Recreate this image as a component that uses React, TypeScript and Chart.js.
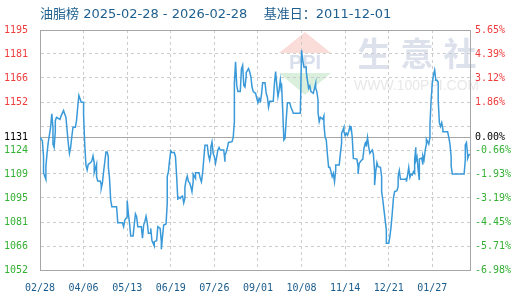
import React, { useEffect, useRef } from "react";
import { Chart, registerables } from "chart.js";

Chart.register(...registerables);

const titleText = "油脂榜 2025-02-28 - 2026-02-28    基准日：2011-12-01";
const watermarkChars = ["生", "意", "社"];
const watermarkUrl = "WWW.100PPI.COM";

const baseValue = 1131;
const yMin = 1052;
const yMax = 1195;

const xTickDays = [0, 37, 74, 111, 148, 185, 222, 259, 296, 333];
const xTickLabels = ["02/28", "04/06", "05/13", "06/19", "07/26", "09/01", "10/08", "11/14", "12/21", "01/27"];

const yTickValues = [1052, 1066.3, 1080.6, 1094.9, 1109.2, 1123.5, 1131, 1137.8, 1152.1, 1166.4, 1180.7, 1195];
const leftTickLabels = ["1052", "1066", "1081", "1095", "1109", "1124", "1131", "", "1152", "1166", "1181", "1195"];
const rightTickLabels = ["-6.98%", "-5.71%", "-4.45%", "-3.19%", "-1.93%", "-0.66%", "0.00%", "", "1.86%", "3.12%", "4.39%", "5.65%"];

// day offset from 2025-02-28
const days = [
  0, 2, 3, 3, 5, 5, 6, 7, 9, 10, 11, 11, 12, 13, 13, 14, 17, 18, 20, 21, 22, 24, 25, 26, 27, 28, 30, 31, 32, 33, 34, 35, 37, 37, 38, 39, 40, 41, 43, 44, 45, 46, 46, 48, 48, 49, 51, 52, 52, 53, 54, 55, 56, 57, 58, 58, 59, 60, 61, 65,
  66, 70, 71, 72, 74, 74, 75, 76, 77, 79, 80, 81, 82, 83, 86, 87, 88, 89, 90, 91, 92, 94, 94, 95, 97, 97, 99, 100, 102, 103, 103, 104, 105, 107, 108, 108, 109, 110, 111, 112, 114, 115, 116, 117, 117, 119, 120, 121, 122, 123, 123, 124, 125, 126, 127, 128, 129, 130, 130, 132, 132, 135, 136, 137, 138, 139, 140, 142, 143, 144, 145, 145, 146, 147, 148, 149,
  151, 152, 153, 156, 157, 157, 158, 159, 160, 163, 164, 165, 165, 166, 167, 168, 170, 171, 172, 173, 174, 175, 175, 177, 178, 179, 180, 181, 183, 184, 185, 186, 187, 187, 188, 189, 191, 192, 193, 194, 195, 198, 199, 200, 201, 202, 203, 204, 205, 205, 206, 207, 208, 209, 210, 212, 213, 214, 215, 221,
  222, 223, 224, 226, 226, 227, 228, 229, 230, 232, 234, 234, 235, 236, 236, 237, 238, 240, 241, 241, 242, 243, 244, 245, 246, 247, 248, 249, 250, 251, 251, 254, 255, 256, 256, 258, 258, 259, 260, 261, 262, 263, 264, 264, 265, 266, 269, 270, 270, 271, 273, 274, 275, 276, 277, 277, 278, 279, 280, 281, 282, 283, 284, 284, 285, 286, 287, 289, 290, 290, 291, 292, 294, 294, 296, 297, 298, 299,
  300, 301, 303, 304, 304, 305, 306, 310, 311, 311, 312, 313, 314, 315, 316, 317, 318, 318, 319, 319, 320, 321, 322, 322, 324, 325, 325, 326, 327, 328, 328, 330, 331, 331, 332, 333, 334, 335, 336, 337, 338, 338, 339, 340, 341, 342, 342, 346, 347, 348, 349, 349, 350, 360, 361, 361, 362, 363, 363, 364, 365,
];

const prices = [
  1131, 1129, 1119.5, 1110, 1106, 1113.6, 1121.7, 1128, 1137, 1145, 1137, 1127, 1125, 1135, 1141, 1143, 1141.8, 1144, 1147, 1145, 1143, 1127.5, 1121.5, 1125, 1131.4, 1137, 1137, 1141, 1149, 1156, 1154, 1152, 1152, 1144.4, 1126.5, 1114.6, 1111.6, 1115, 1116, 1117, 1120, 1116, 1110, 1115, 1107.6, 1105, 1105, 1103, 1100.7, 1104, 1110.6, 1116.5, 1122.3, 1122.3, 1119.5, 1113.6, 1106.6, 1093.7, 1089.7, 1089.7,
  1080.2, 1080.2, 1077.8, 1081.8, 1083.8, 1093.3, 1085.8, 1079.8, 1072.3, 1072.3, 1078.8, 1085.4, 1083.8, 1077.8, 1077.8, 1071, 1078.8, 1080.8, 1084, 1080.2, 1073.9, 1073.9, 1076.8, 1069.5, 1066.3, 1068.9, 1069.5, 1077.8, 1076.8, 1068.9, 1064.3, 1071.9, 1078.8, 1079.4, 1091.7, 1107.6, 1110.6, 1117.5, 1123, 1122, 1122, 1119.5, 1107.6, 1093.7, 1095.7, 1094.7, 1095.7, 1096, 1092, 1094.7, 1101.3, 1105.6, 1108, 1104.6, 1104, 1101.7, 1098.7, 1104.6, 1109, 1106.6, 1110, 1110, 1106.6, 1104.6, 1109.6, 1118, 1126.3, 1126.3, 1120.5, 1117.5, 1121.5, 1125.1, 1128.3, 1121.5, 1119.5, 1115.6,
  1123.5, 1125, 1123.5, 1123.5, 1116.5, 1120.5, 1122, 1124.7, 1128, 1128.5, 1131, 1140.4, 1163.2, 1176, 1162, 1158.3, 1158.3, 1172, 1174, 1162, 1161, 1167.2, 1169.6, 1172, 1170, 1167.2, 1161, 1158.3, 1157.3, 1154.3, 1151.7, 1154.3, 1152.9, 1151.7, 1156.5, 1163.6, 1163.6, 1157.3, 1155, 1149, 1152.5, 1152.5, 1163.2, 1170.2, 1162.3, 1155.3, 1159.3, 1165.2, 1158.3, 1163.2, 1147.7, 1129.5, 1130.5, 1141.4, 1151.7, 1151.7, 1149, 1147.3, 1145.4, 1145.4,
  1183, 1177, 1173, 1173, 1170.2, 1165, 1160.3, 1161.7, 1158.3, 1157.3, 1163.2, 1160.3, 1158.3, 1153.3, 1145.9, 1140.4, 1143, 1141.8, 1143.8, 1139, 1131, 1129.5, 1120.5, 1113.2, 1113.2, 1110.6, 1107.6, 1109.6, 1104.6, 1111.6, 1114.6, 1114.6, 1121.5, 1127.5, 1133.4, 1137, 1134.4, 1132, 1133.4, 1132.3, 1134.4, 1137.4, 1135.4, 1137.8, 1131.4, 1118.5, 1118.1, 1113.6, 1109.2, 1115.6, 1117.5, 1117.9, 1124.5, 1127.5, 1128.5, 1125.5, 1131, 1125.5, 1121.5, 1122.5, 1123.5, 1121.1, 1110.6, 1102.6, 1110.6, 1116, 1113.6, 1113.2, 1107.6, 1098.7, 1093.7, 1087.7, 1075.8, 1067.9, 1067.9, 1071.9, 1077.8, 1085.8,
  1094.7, 1098.7, 1099.3, 1102, 1107.6, 1111.2, 1106, 1106, 1106.6, 1104.6, 1108.6, 1113.2, 1107.2, 1109.2, 1108.6, 1110.6, 1109.6, 1117.5, 1125.1, 1117.1, 1119.5, 1111.6, 1105.6, 1118.1, 1118.7, 1114.8, 1120.1, 1117.7, 1123.5, 1127, 1129.9, 1127, 1131, 1138.4, 1153.3, 1163.2, 1168.2, 1171.1, 1165, 1165, 1164, 1153.3, 1139.8, 1137.5, 1139.8, 1135.8, 1134.4, 1134.4, 1131, 1127, 1119.5, 1114, 1109.2, 1109.2, 1117.5, 1126.5, 1127.9, 1120.5, 1118.5, 1120.5, 1121,
];

const RED = "#f03c3c";
const GREEN = "#34b034";
const FRAME = "#a6a6a6";
const TRANSPARENT = "rgba(0,0,0,0)";
const tickFont = { family: "'DejaVu Sans Mono', monospace", size: 10 };

function labelColor(v: number) {
  if (Math.abs(v - baseValue) < 0.01) return "#000000";
  return v > baseValue ? RED : GREEN;
}

const decorPlugin = {
  id: "decor",
  beforeDraw(chart: any) {
    const { ctx } = chart;
    ctx.save();
    // title
    ctx.fillStyle = "#1f5f8f";
    ctx.font = "13px 'DejaVu Sans', 'Noto Sans CJK SC', sans-serif";
    ctx.textBaseline = "middle";
    ctx.textAlign = "left";
    ctx.fillText(titleText, 40, 15);
    // watermark logo
    const cx = 305;
    ctx.fillStyle = "#fadcd8";
    ctx.beginPath();
    ctx.moveTo(cx, 32);
    ctx.lineTo(cx + 26, 53);
    ctx.lineTo(cx - 26, 53);
    ctx.closePath();
    ctx.fill();
    ctx.fillStyle = "#daf0dc";
    ctx.beginPath();
    ctx.moveTo(cx - 26, 73);
    ctx.lineTo(cx + 26, 73);
    ctx.lineTo(cx, 95);
    ctx.closePath();
    ctx.fill();
    ctx.fillStyle = "#d9dfec";
    ctx.font = "bold 20px 'Liberation Sans', sans-serif";
    ctx.textAlign = "center";
    ctx.fillText("PPI", cx, 63);
    // watermark text
    ctx.fillStyle = "#dce1ec";
    ctx.font = "bold 33px 'Noto Sans CJK SC', sans-serif";
    watermarkChars.forEach((ch, i) => {
      ctx.fillText(ch, 374 + i * 43, 53);
    });
    ctx.fillStyle = "#e8e8e8";
    ctx.font = "14px 'Liberation Sans', sans-serif";
    ctx.textAlign = "left";
    ctx.fillText(watermarkUrl, 354, 86);
    ctx.restore();
  },
  beforeDatasetsDraw(chart: any) {
    const { ctx, chartArea } = chart;
    const yScale = chart.scales.y;
    ctx.save();
    ctx.strokeStyle = FRAME;
    ctx.lineWidth = 1;
    ctx.beginPath();
    ctx.moveTo(chartArea.left, Math.round(chartArea.top) + 0.5);
    ctx.lineTo(chartArea.right, Math.round(chartArea.top) + 0.5);
    const by = Math.round(yScale.getPixelForValue(baseValue)) + 0.5;
    ctx.moveTo(chartArea.left, by);
    ctx.lineTo(chartArea.right, by);
    ctx.stroke();
    ctx.restore();
  },
};

export default function App() {
  const ref = useRef<HTMLCanvasElement | null>(null);
  useEffect(() => {
    document.body.style.margin = "0";
    const canvas = ref.current;
    if (!canvas) return;
    const points = days.map((d, i) => ({ x: d, y: prices[i] }));
    const chart = new Chart(canvas, {
      type: "line",
      data: {
        datasets: [
          {
            data: points,
            borderColor: "#3a9ad9",
            borderWidth: 1.5,
            pointRadius: 0,
            tension: 0,
            fill: false,
          },
        ],
      },
      options: {
        animation: false,
        responsive: false,
        devicePixelRatio: 1,
        parsing: false as any,
        layout: { padding: { top: 30, left: 0, right: 0, bottom: 0 } },
        plugins: { legend: { display: false }, tooltip: { enabled: false }, title: { display: false } },
        scales: {
          x: {
            type: "linear",
            min: 0,
            max: 365,
            afterBuildTicks: (s: any) => {
              s.ticks = xTickDays.map((v) => ({ value: v }));
            },
            afterFit: (s: any) => {
              s.height = 30;
            },
            grid: {
              color: (c: any) => (c.tick && c.tick.value === 0 ? TRANSPARENT : "#cccccc"),
              drawTicks: false,
              lineWidth: 1,
            },
            border: { display: true, color: FRAME, dash: [3, 3] },
            ticks: {
              callback: (_v: any, i: number) => xTickLabels[i],
              autoSkip: false,
              maxRotation: 0,
              color: "#1a5c8c",
              font: tickFont,
              padding: 12,
            },
          },
          y: {
            position: "left",
            min: yMin,
            max: yMax,
            afterBuildTicks: (s: any) => {
              s.ticks = yTickValues.map((v) => ({ value: v }));
            },
            afterFit: (s: any) => {
              s.width = 40;
            },
            grid: {
              color: (c: any) => {
                const v = c.tick ? c.tick.value : 0;
                if (v === baseValue || v === yMax || v === yMin) return TRANSPARENT;
                return "#cccccc";
              },
              drawTicks: false,
              lineWidth: 1,
            },
            border: { display: true, color: FRAME, dash: [3, 3] },
            ticks: {
              callback: (_v: any, i: number) => leftTickLabels[i],
              autoSkip: false,
              color: (c: any) => labelColor(c.tick ? c.tick.value : 0),
              font: tickFont,
              padding: 12,
            },
          },
          y2: {
            position: "right",
            min: yMin,
            max: yMax,
            afterBuildTicks: (s: any) => {
              s.ticks = yTickValues.map((v) => ({ value: v }));
            },
            afterFit: (s: any) => {
              s.width = 50;
            },
            grid: { display: false, drawTicks: false },
            border: { display: true, color: FRAME },
            ticks: {
              callback: (_v: any, i: number) => rightTickLabels[i],
              autoSkip: false,
              color: (c: any) => labelColor(c.tick ? c.tick.value : 0),
              font: tickFont,
              padding: 5,
            },
          },
        },
      } as any,
      plugins: [decorPlugin],
    });
    return () => chart.destroy();
  }, []);
  return (
    <div style={{ width: 520, height: 300 }}>
      <canvas ref={ref} width={520} height={300} style={{ display: "block" }} />
    </div>
  );
}
